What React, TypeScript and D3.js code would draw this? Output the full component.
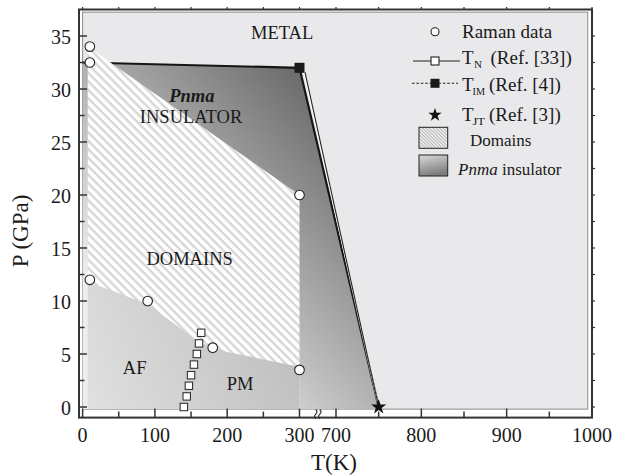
import { useEffect, useRef } from 'react';
import * as d3 from 'd3';

// Raman data points (T in K, P in GPa)
const ramanT = [10, 10, 300, 10, 90, 180, 300];
const ramanP = [34, 32.5, 20, 12, 10, 5.6, 3.5];

// T_N (Ref. [33])
const tnT = [140, 144, 147, 150, 154, 158, 161, 164];
const tnP = [0, 1, 2, 3, 4, 5, 6, 7];

// T_IM (Ref. [4]) and T_JT (Ref. [3])
const timT = [300];
const timP = [32];
const tjtT = [750];
const tjtP = [0];

// phase regions
const pnmaT = [0, 300, 751, 0];
const pnmaP = [32.5, 32, -0.2, -0.2];
const domainsT = [7, 300, 300, 7];
const domainsP = [34, 20, -0.2, -0.2];
const afpmT = [7, 40, 90, 140, 160, 200, 300, 300, 7];
const afpmP = [11.8, 11, 9.7, 7.2, 6.1, 5.2, 3.8, -0.2, -0.2];

// boundary lines
const metalT = [0, 300, 750];
const metalP = [32.5, 32, 0];
const edgeT = [360, 750];
const edgeP = [31.6, 0];

const xMajor = [0, 100, 200, 300, 700, 800, 900, 1000];
const xMinor = [50, 150, 250, 750, 850, 950];
const yMajor = [0, 5, 10, 15, 20, 25, 30, 35];
const yMinor = [2.5, 7.5, 12.5, 17.5, 22.5, 27.5, 32.5];

const regionLabels = ['METAL', 'INSULATOR', 'DOMAINS', 'AF', 'PM'];
const regionLabelT = [276, 150, 148, 72, 218];
const regionLabelP = [35.3, 27.4, 14, 3.7, 2.2];

const FONT = '"Liberation Serif", "Times New Roman", serif';
const W = 625;
const H = 476;

export default function App() {
  const svgRef = useRef<SVGSVGElement>(null);

  useEffect(() => {
    if (!svgRef.current) return;
    const svg = d3.select(svgRef.current);
    svg.selectAll('*').remove();

    // broken x axis: 0-300 then 700-1000
    const x = d3.scaleLinear().domain([-5, 300, 700, 1000]).range([79, 299.5, 336, 592]);
    const y = d3.scaleLinear().domain([-1, 37.5]).range([417.6, 9.5]);

    const pts = (ts: number[], ps: number[]) => ts.map((t, i) => [t, ps[i]] as [number, number]);
    const line = d3.line<[number, number]>().x(d => x(d[0])).y(d => y(d[1]));

    const defs = svg.append('defs');

    const hatch = defs.append('pattern')
      .attr('id', 'hatch')
      .attr('patternUnits', 'userSpaceOnUse')
      .attr('width', 6).attr('height', 6)
      .attr('patternTransform', 'rotate(45)');
    hatch.append('rect').attr('width', 6).attr('height', 6).attr('fill', '#ffffff');
    hatch.append('rect').attr('width', 6).attr('height', 2.3).attr('fill', '#d6d6d6');

    const hatchFine = defs.append('pattern')
      .attr('id', 'hatchFine')
      .attr('patternUnits', 'userSpaceOnUse')
      .attr('width', 2.4).attr('height', 2.4)
      .attr('patternTransform', 'rotate(45)');
    hatchFine.append('rect').attr('width', 2.4).attr('height', 2.4).attr('fill', '#f4f4f4');
    hatchFine.append('rect').attr('width', 2.4).attr('height', 1).attr('fill', '#b0b0b0');

    const gx = x(300), gy = y(32);
    const pg = defs.append('linearGradient')
      .attr('id', 'pnmaGrad')
      .attr('gradientUnits', 'userSpaceOnUse')
      .attr('x1', gx).attr('y1', gy)
      .attr('x2', gx - 225).attr('y2', gy + 200);
    pg.append('stop').attr('offset', 0).attr('stop-color', '#6a6a6a');
    pg.append('stop').attr('offset', 1).attr('stop-color', '#eeeeee');

    const ag = defs.append('linearGradient')
      .attr('id', 'afpmGrad')
      .attr('gradientUnits', 'userSpaceOnUse')
      .attr('x1', x(7)).attr('y1', y(0))
      .attr('x2', x(300)).attr('y2', y(8));
    ag.append('stop').attr('offset', 0).attr('stop-color', '#e0e0e0');
    ag.append('stop').attr('offset', 1).attr('stop-color', '#bdbdbd');

    const lg = defs.append('linearGradient')
      .attr('id', 'legGrad')
      .attr('x1', 0).attr('y1', 0).attr('x2', 0.3).attr('y2', 1);
    lg.append('stop').attr('offset', 0).attr('stop-color', '#dadada');
    lg.append('stop').attr('offset', 1).attr('stop-color', '#7e7e7e');

    // panel background
    svg.append('rect')
      .attr('x', x(0)).attr('y', y(37.25))
      .attr('width', x(995) - x(0)).attr('height', y(-0.2) - y(37.25))
      .attr('fill', '#e9e9eb')
      .attr('stroke', '#8c8c8c')
      .attr('stroke-width', 1);

    // Pnma insulator region
    svg.append('path')
      .attr('d', line(pts(pnmaT, pnmaP)) + 'Z')
      .attr('fill', 'url(#pnmaGrad)');

    // metal boundary lines
    svg.append('path')
      .attr('d', line(pts(metalT, metalP)))
      .attr('fill', 'none')
      .attr('stroke', '#151515')
      .attr('stroke-width', 2.2);
    svg.append('path')
      .attr('d', line(pts([343, 750], [31.8, 0])))
      .attr('fill', 'none')
      .attr('stroke', '#ffffff')
      .attr('stroke-width', 1.3);
    svg.append('path')
      .attr('d', line(pts(edgeT, edgeP)))
      .attr('fill', 'none')
      .attr('stroke', '#222')
      .attr('stroke-width', 1.1);

    // domains
    svg.append('path')
      .attr('d', line(pts(domainsT, domainsP)) + 'Z')
      .attr('fill', 'url(#hatch)');

    // AF / PM region
    svg.append('path')
      .attr('d', line(pts(afpmT, afpmP)) + 'Z')
      .attr('fill', 'url(#afpmGrad)');

    // region labels
    regionLabels.forEach((lab, i) => {
      svg.append('text')
        .attr('x', x(regionLabelT[i]))
        .attr('y', y(regionLabelP[i]))
        .attr('text-anchor', 'middle')
        .attr('dominant-baseline', 'central')
        .attr('font-family', FONT)
        .attr('font-size', 18.5)
        .attr('fill', '#1a1a1a')
        .text(lab);
    });
    svg.append('text')
      .attr('x', x(151))
      .attr('y', y(29.3))
      .attr('text-anchor', 'middle')
      .attr('dominant-baseline', 'central')
      .attr('font-family', FONT)
      .attr('font-size', 18.5)
      .attr('font-weight', 'bold')
      .attr('font-style', 'italic')
      .attr('fill', '#1a1a1a')
      .text('Pnma');

    // T_N squares
    tnT.forEach((t, i) => {
      svg.append('rect')
        .attr('x', x(t) - 3.7).attr('y', y(tnP[i]) - 3.7)
        .attr('width', 7.4).attr('height', 7.4)
        .attr('fill', '#fff')
        .attr('stroke', '#333')
        .attr('stroke-width', 1.1);
    });

    // Raman circles
    ramanT.forEach((t, i) => {
      svg.append('circle')
        .attr('cx', x(t)).attr('cy', y(ramanP[i]))
        .attr('r', 4.8)
        .attr('fill', '#fff')
        .attr('stroke', '#222')
        .attr('stroke-width', 1.1);
    });

    // T_IM filled square
    timT.forEach((t, i) => {
      svg.append('rect')
        .attr('x', x(t) - 5).attr('y', y(timP[i]) - 5)
        .attr('width', 10).attr('height', 10)
        .attr('fill', '#1a1a1a');
    });

    // T_JT star
    const star = d3.symbol().type(d3.symbolStar);
    tjtT.forEach((t, i) => {
      svg.append('path')
        .attr('d', star.size(72)())
        .attr('transform', `translate(${x(t)},${y(tjtP[i])})`)
        .attr('fill', '#111');
    });

    // axes frame
    const axisColor = '#333';
    const [x0, x1] = [79, 592];
    const [yb, yt] = [417.6, 9.5];
    svg.append('rect')
      .attr('x', x0).attr('y', yt)
      .attr('width', x1 - x0).attr('height', yb - yt)
      .attr('fill', 'none')
      .attr('stroke', axisColor)
      .attr('stroke-width', 2);

    // bottom ticks (inward) and top ticks (outward)
    xMajor.concat(xMinor).forEach(t => {
      const major = xMajor.includes(t);
      svg.append('line')
        .attr('x1', x(t)).attr('x2', x(t))
        .attr('y1', yb).attr('y2', yb - (major ? 9 : 6))
        .attr('stroke', axisColor).attr('stroke-width', 1.5);
      svg.append('line')
        .attr('x1', x(t)).attr('x2', x(t))
        .attr('y1', yt).attr('y2', yt - 2.5)
        .attr('stroke', axisColor).attr('stroke-width', 1.2);
    });
    // left ticks (inward) and right ticks (outward)
    yMajor.concat(yMinor).forEach(p => {
      const major = yMajor.includes(p);
      svg.append('line')
        .attr('x1', x0).attr('x2', x0 + (major ? 8 : 5.5))
        .attr('y1', y(p)).attr('y2', y(p))
        .attr('stroke', axisColor).attr('stroke-width', 1.5);
      svg.append('line')
        .attr('x1', x1).attr('x2', x1 + 3)
        .attr('y1', y(p)).attr('y2', y(p))
        .attr('stroke', axisColor).attr('stroke-width', 1.2);
    });

    // axis break mark
    const bx = x(500);
    [-2, 2].forEach(off => {
      svg.append('path')
        .attr('d', `M${bx + off},409.5 q2.4,2.2 0,4.6 q-2.4,2.4 0,4.8`)
        .attr('fill', 'none')
        .attr('stroke', axisColor)
        .attr('stroke-width', 1.2);
    });

    // tick labels
    xMajor.forEach(t => {
      svg.append('text')
        .attr('x', x(t)).attr('y', 442)
        .attr('text-anchor', 'middle')
        .attr('font-family', FONT)
        .attr('font-size', 20)
        .attr('fill', '#1a1a1a')
        .text(t);
    });
    yMajor.forEach(p => {
      svg.append('text')
        .attr('x', 71).attr('y', y(p) + 1)
        .attr('text-anchor', 'end')
        .attr('dominant-baseline', 'central')
        .attr('font-family', FONT)
        .attr('font-size', 20)
        .attr('fill', '#1a1a1a')
        .text(p);
    });

    // axis titles
    svg.append('text')
      .attr('x', 334).attr('y', 470)
      .attr('text-anchor', 'middle')
      .attr('font-family', FONT)
      .attr('font-size', 23)
      .attr('fill', '#1a1a1a')
      .text('T(K)');
    svg.append('text')
      .attr('transform', 'translate(28,231) rotate(-90)')
      .attr('text-anchor', 'middle')
      .attr('font-family', FONT)
      .attr('font-size', 23)
      .attr('fill', '#1a1a1a')
      .text('P (GPa)');

    // legend
    const lx = 435;
    const leg = svg.append('g')
      .attr('font-family', FONT)
      .attr('fill', '#1a1a1a');

    leg.append('circle')
      .attr('cx', lx).attr('cy', 31.7).attr('r', 4)
      .attr('fill', '#fff').attr('stroke', '#222').attr('stroke-width', 1.1);
    leg.append('text').attr('x', 462).attr('y', 37.5).attr('font-size', 19).text('Raman data');

    leg.append('line')
      .attr('x1', 413).attr('x2', 460).attr('y1', 61).attr('y2', 61)
      .attr('stroke', '#222').attr('stroke-width', 1.1);
    leg.append('rect')
      .attr('x', lx - 4).attr('y', 57).attr('width', 8).attr('height', 8)
      .attr('fill', '#fff').attr('stroke', '#222').attr('stroke-width', 1.1);

    leg.append('line')
      .attr('x1', 412).attr('x2', 458).attr('y1', 83.3).attr('y2', 83.3)
      .attr('stroke', '#222').attr('stroke-width', 1.1)
      .attr('stroke-dasharray', '2.6,1.8');
    leg.append('rect')
      .attr('x', lx - 4.5).attr('y', 78.8).attr('width', 9).attr('height', 9)
      .attr('fill', '#1a1a1a');

    leg.append('path')
      .attr('d', star.size(56)())
      .attr('transform', `translate(${lx},115)`)
      .attr('fill', '#111');

    const subRows = [
      { sub: 'N', ref: '(Ref. [33])', base: 64, subX: 474, refX: 490.5 },
      { sub: 'IM', ref: '(Ref. [4])', base: 90.5, subX: 472.5, refX: 489 },
      { sub: 'JT', ref: '(Ref. [3])', base: 120.5, subX: 472.5, refX: 489 },
    ];
    subRows.forEach(r => {
      leg.append('text').attr('x', 462).attr('y', r.base).attr('font-size', 19).text('T');
      leg.append('text')
        .attr('x', r.subX).attr('y', r.base + 4)
        .attr('font-size', 11)
        .attr('textLength', r.sub.length > 1 ? 12.5 : null)
        .attr('lengthAdjust', 'spacingAndGlyphs')
        .text(r.sub);
      leg.append('text').attr('x', r.refX).attr('y', r.base).attr('font-size', 19).text(r.ref);
    });

    leg.append('rect')
      .attr('x', 419).attr('y', 127.3).attr('width', 28.7).attr('height', 21)
      .attr('fill', 'url(#hatchFine)').attr('stroke', '#222').attr('stroke-width', 1);
    leg.append('text').attr('x', 470).attr('y', 146).attr('font-size', 17).text('Domains');

    leg.append('rect')
      .attr('x', 419).attr('y', 155).attr('width', 28.7).attr('height', 21)
      .attr('fill', 'url(#legGrad)').attr('stroke', '#222').attr('stroke-width', 1);
    const pt = leg.append('text').attr('x', 458).attr('y', 175).attr('font-size', 17);
    pt.append('tspan').attr('font-style', 'italic').text('Pnma');
    pt.append('tspan').text(' insulator');
  }, []);

  return (
    <svg
      ref={svgRef}
      width={W}
      height={H}
      style={{ position: 'absolute', left: 0, top: 0, background: '#fff' }}
    />
  );
}
